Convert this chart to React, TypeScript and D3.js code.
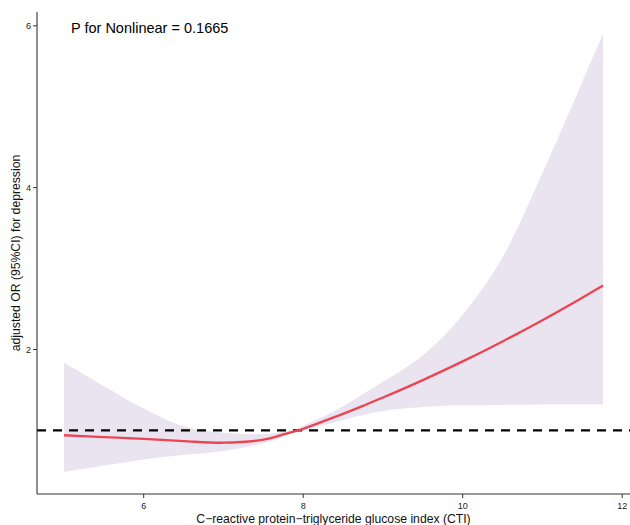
import React from "react";
import * as d3 from "d3";

// CTI values along the spline fit
const cti = [5.0, 5.5, 6.0, 6.5, 7.0, 7.5, 7.75, 7.9, 8.0, 8.25, 8.5, 8.75, 9.0, 9.5, 10.0, 10.5, 11.0, 11.5, 11.76];
// adjusted OR and 95% CI bounds
const orFit = [0.94, 0.918, 0.895, 0.868, 0.848, 0.885, 0.95, 0.99, 1.02, 1.111, 1.205, 1.304, 1.406, 1.622, 1.853, 2.1, 2.362, 2.64, 2.79];
const ciLow = [0.485, 0.565, 0.64, 0.695, 0.745, 0.84, 0.92, 0.98, 1.0, 1.06, 1.13, 1.19, 1.24, 1.29, 1.31, 1.315, 1.32, 1.32, 1.32];
const ciHigh = [1.84, 1.55, 1.27, 1.05, 0.97, 0.955, 0.985, 1.01, 1.06, 1.17, 1.3, 1.45, 1.6, 1.93, 2.43, 3.14, 4.18, 5.31, 5.9];

const xTicks = [6, 8, 10, 12];
const yTicks = [2, 4, 6];
const pLabel = "P for Nonlinear = 0.1665";

const W = 630, H = 525;
const margin = { top: 12, right: 0, bottom: 31, left: 37 };

export default function App() {
  // ggplot style 5% expansion
  const xr = d3.extent(cti) as [number, number];
  const xpad = (xr[1] - xr[0]) * 0.05;
  const yr: [number, number] = [d3.min(ciLow)!, d3.max(ciHigh)!];
  const ypad = (yr[1] - yr[0]) * 0.05;

  const x = d3.scaleLinear().domain([xr[0] - xpad, xr[1] + xpad]).range([margin.left, W - margin.right]);
  const y = d3.scaleLinear().domain([yr[0] - ypad, yr[1] + ypad]).range([H - margin.bottom, margin.top]);

  const pts = cti.map((d, i) => ({ x: d, fit: orFit[i], lo: ciLow[i], hi: ciHigh[i] }));

  const area = d3.area<any>()
    .x(d => x(d.x))
    .y0(d => y(d.lo))
    .y1(d => y(d.hi))
    .curve(d3.curveCatmullRom.alpha(0.5));

  const line = d3.line<any>()
    .x(d => x(d.x))
    .y(d => y(d.fit))
    .curve(d3.curveCatmullRom.alpha(0.5));

  const bottom = H - margin.bottom;
  const font = "'Liberation Sans', Arial, sans-serif";

  return (
    <svg width={W} height={H} style={{ position: "absolute", left: 0, top: 0, background: "#fff" }} fontFamily={font}>
      <path d={area(pts)!} fill="#EAE4F1" stroke="none" />
      <line x1={margin.left} x2={W - margin.right} y1={y(1)} y2={y(1)}
        stroke="#000" strokeWidth={2.2} strokeDasharray="9,7" />
      <path d={line(pts)!} fill="none" stroke="#EC4452" strokeWidth={2.3} />

      {/* axes */}
      <line x1={margin.left} x2={margin.left} y1={margin.top} y2={bottom} stroke="#333" strokeWidth={1.1} />
      <line x1={margin.left} x2={W - margin.right} y1={bottom} y2={bottom} stroke="#333" strokeWidth={1.1} />
      {yTicks.map(t => (
        <g key={"y" + t}>
          <line x1={margin.left - 4} x2={margin.left} y1={y(t)} y2={y(t)} stroke="#333" />
          <text x={margin.left - 6} y={y(t)} dy="0.35em" textAnchor="end" fontSize={9} fill="#222">{t}</text>
        </g>
      ))}
      {xTicks.map(t => (
        <g key={"x" + t}>
          <line x1={x(t)} x2={x(t)} y1={bottom} y2={bottom + 4} stroke="#333" />
          <text x={x(t)} y={bottom + 15} textAnchor="middle" fontSize={9} fill="#222">{t}</text>
        </g>
      ))}

      <text x={(margin.left + W - margin.right) / 2} y={H - 2} textAnchor="middle" fontSize={12.2} fill="#111">
        C−reactive protein−triglyceride glucose index (CTI)
      </text>
      <text transform={`translate(16,${(margin.top + bottom) / 2}) rotate(-90)`} dy="0.35em" textAnchor="middle" fontSize={12.2} fill="#111">
        adjusted OR (95%CI) for depression
      </text>
      <text x={71} y={33} fontSize={14.5} fill="#000">{pLabel}</text>
    </svg>
  );
}
